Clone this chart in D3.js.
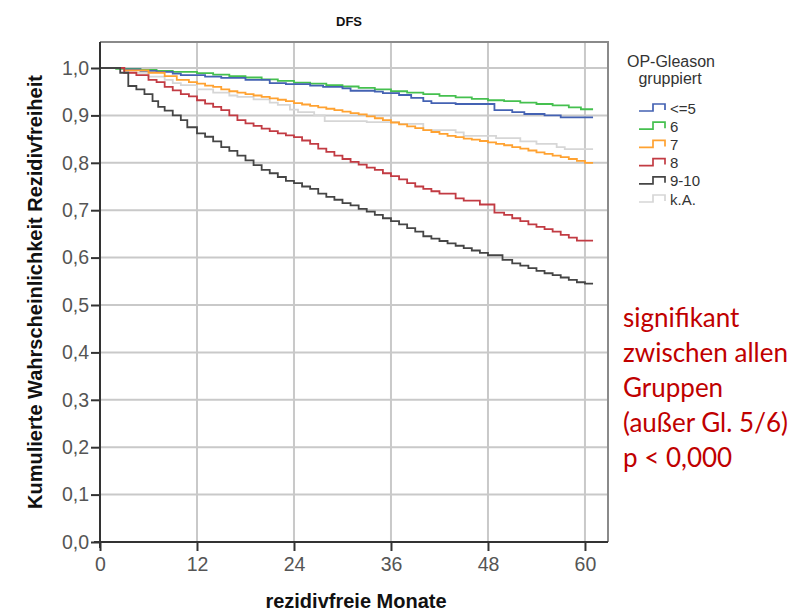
<!DOCTYPE html>
<html>
<head>
<meta charset="utf-8">
<script src="https://cdn.jsdelivr.net/npm/d3@7"></script>
<style>
  html, body { margin: 0; padding: 0; background: #fff; }
  svg { display: block; }
</style>
</head>
<body>
<svg id="chart" width="797" height="612"></svg>
<script>
// Kaplan-Meier step curves: months and cumulative recurrence-free probability per group
const groups = ["<=5", "6", "7", "8", "9-10", "k.A."];
const colors = ["#4462b3", "#45c04f", "#ffa231", "#c23b43", "#454545", "#d6d6d6"];

const monthsLe5 = [0, 3, 5, 7, 9, 10, 13, 15, 18, 21, 23, 26, 27.6, 30, 31, 34, 35, 37, 38.5, 40, 41, 44, 48.8, 51, 52.5, 55, 57, 61];
const survLe5   = [1, 0.997, 0.994, 0.992, 0.988, 0.985, 0.982, 0.979, 0.975, 0.968, 0.966, 0.963, 0.96, 0.957, 0.952, 0.95, 0.947, 0.943, 0.937, 0.93, 0.926, 0.924, 0.911, 0.907, 0.903, 0.9, 0.896, 0.896];

const months6 = [0, 2, 5, 7, 9, 12, 14, 16, 18, 20, 22, 24, 26, 28, 30, 32, 34, 36, 38, 40, 42, 44, 46, 48, 50, 52, 54, 56, 58, 59.5, 61];
const surv6   = [1, 0.998, 0.996, 0.994, 0.992, 0.989, 0.986, 0.983, 0.98, 0.976, 0.973, 0.969, 0.967, 0.964, 0.961, 0.958, 0.955, 0.951, 0.948, 0.945, 0.941, 0.938, 0.935, 0.932, 0.93, 0.927, 0.924, 0.921, 0.917, 0.913, 0.913];

const months7 = [0, 3, 6, 8, 9.5, 11, 12, 13, 14, 15, 16, 17, 18, 19, 20, 21, 22, 23, 24, 25, 26, 27, 28, 29, 30, 31, 32, 33, 34, 35, 36, 37, 38, 39, 40, 41, 42, 43, 44, 45, 46, 47, 48, 49, 50, 51, 52, 53, 54, 55, 56, 57, 58, 59, 60, 61];
const surv7   = [1, 0.995, 0.99, 0.983, 0.975, 0.97, 0.967, 0.963, 0.96, 0.955, 0.951, 0.948, 0.945, 0.942, 0.939, 0.936, 0.933, 0.93, 0.926, 0.923, 0.92, 0.917, 0.914, 0.911, 0.908, 0.905, 0.902, 0.898, 0.894, 0.89, 0.885, 0.881, 0.877, 0.873, 0.869, 0.865, 0.861, 0.857, 0.854, 0.851, 0.849, 0.846, 0.843, 0.84, 0.837, 0.833, 0.83, 0.826, 0.822, 0.819, 0.815, 0.812, 0.808, 0.804, 0.8, 0.8];

const months8 = [0, 3, 4.5, 6, 7, 8, 9, 10, 11, 12, 13, 14, 15, 16, 17, 18, 19, 20, 21, 22, 23, 24, 25, 26, 27, 28, 29, 30, 31, 32, 33, 34, 35, 36, 37, 38, 39, 40, 41, 42, 44, 45, 47, 48.8, 50, 51, 52, 53, 54, 55, 56, 57, 58, 59, 61];
const surv8   = [1, 0.99, 0.985, 0.975, 0.97, 0.96, 0.953, 0.945, 0.94, 0.932, 0.925, 0.918, 0.911, 0.9, 0.89, 0.883, 0.878, 0.872, 0.867, 0.862, 0.858, 0.854, 0.847, 0.84, 0.83, 0.823, 0.815, 0.808, 0.802, 0.796, 0.79, 0.785, 0.778, 0.772, 0.765, 0.757, 0.75, 0.745, 0.74, 0.735, 0.725, 0.72, 0.712, 0.695, 0.69, 0.683, 0.677, 0.67, 0.665, 0.66, 0.655, 0.648, 0.642, 0.636, 0.636];

const months910 = [0, 2.5, 3.5, 4.5, 5.5, 6.5, 7.2, 8, 9, 10, 10.8, 12, 13, 14, 15, 16, 17, 18, 19, 20, 21, 22, 23, 24, 25, 26, 27, 28, 29, 30, 31, 32, 33, 34, 35, 36, 37, 38, 39, 40, 41, 42, 43, 44, 45, 46, 47, 48, 49.8, 51, 52, 53, 54, 55, 56, 57, 58, 59, 60, 61];
const surv910   = [1, 0.99, 0.962, 0.955, 0.945, 0.93, 0.918, 0.91, 0.9, 0.89, 0.875, 0.862, 0.855, 0.845, 0.833, 0.825, 0.815, 0.805, 0.795, 0.785, 0.778, 0.77, 0.762, 0.757, 0.75, 0.745, 0.735, 0.728, 0.722, 0.715, 0.71, 0.703, 0.697, 0.69, 0.683, 0.677, 0.67, 0.662, 0.655, 0.645, 0.64, 0.635, 0.63, 0.625, 0.62, 0.615, 0.61, 0.605, 0.595, 0.588, 0.583, 0.578, 0.572, 0.567, 0.563, 0.558, 0.553, 0.548, 0.545, 0.545];

const monthsKA = [0, 3, 6, 8, 9, 10, 12, 14, 16, 17, 19, 21, 22, 23.5, 24.5, 26.5, 27.8, 33, 37, 40, 44, 45, 49, 52, 54, 56.5, 57.5, 61];
const survKA   = [1, 0.99, 0.982, 0.975, 0.968, 0.964, 0.955, 0.948, 0.942, 0.939, 0.934, 0.927, 0.922, 0.912, 0.907, 0.9, 0.888, 0.886, 0.882, 0.869, 0.864, 0.857, 0.852, 0.845, 0.84, 0.833, 0.829, 0.829];

const monthTicks = [0, 12, 24, 36, 48, 60];
const probTicks = [0, 0.1, 0.2, 0.3, 0.4, 0.5, 0.6, 0.7, 0.8, 0.9, 1.0];

const noteLines = ["signifikant", "zwischen allen", "Gruppen", "(außer Gl. 5/6)", "p < 0,000"];

const monthsList = [monthsLe5, months6, months7, months8, months910, monthsKA];
const survList = [survLe5, surv6, surv7, surv8, surv910, survKA];
// drawing order: light gray first so coloured curves sit on top
const drawOrder = [5, 1, 0, 2, 3, 4];

const svg = d3.select("#chart");
const fmt = d => d3.format(".1f")(d).replace(".", ",");

const x = d3.scaleLinear().domain([0, 62.85]).range([100, 608]);
const y = d3.scaleLinear().domain([0, 1]).range([542, 68]);
const yTop = y(1.055);

// grid
const grid = svg.append("g").attr("stroke", "#c9c9c9").attr("stroke-width", 2);
grid.selectAll("line.h").data(probTicks.slice(1)).join("line")
  .attr("x1", x(0)).attr("x2", x.range()[1])
  .attr("y1", d => y(d)).attr("y2", d => y(d));
grid.selectAll("line.v").data(monthTicks.slice(1)).join("line")
  .attr("y1", yTop).attr("y2", y(0))
  .attr("x1", d => x(d)).attr("x2", d => x(d));

// frame (top and right)
svg.append("path")
  .attr("d", `M${x(0)},${yTop}H${x.range()[1]}V${y(0)}`)
  .attr("fill", "none").attr("stroke", "#8a8a8a").attr("stroke-width", 2);

// curves
const line = d3.line().x(d => x(d[0])).y(d => y(d[1])).curve(d3.curveStepAfter);
svg.append("g").selectAll("path").data(drawOrder).join("path")
  .attr("d", i => line(monthsList[i].map((m, k) => [m, survList[i][k]])))
  .attr("fill", "none")
  .attr("stroke", i => colors[i])
  .attr("stroke-width", 1.8)
  .attr("stroke-linejoin", "miter");

// axes
const axisFont = "'Liberation Sans', Arial, sans-serif";
const yAxis = svg.append("g").attr("transform", `translate(${x(0)},0)`)
  .call(d3.axisLeft(y).tickValues(probTicks).tickFormat(fmt).tickSize(9).tickPadding(2));
const xAxis = svg.append("g").attr("transform", `translate(0,${y(0)})`)
  .call(d3.axisBottom(x).tickValues(monthTicks).tickSize(9).tickPadding(6));
[yAxis, xAxis].forEach(a => {
  a.select(".domain").remove();
  a.selectAll(".tick line").attr("stroke", "#333").attr("stroke-width", 2);
  a.selectAll(".tick text").attr("fill", "#555").style("font-family", axisFont).style("font-size", "19.5px");
});
svg.append("line").attr("x1", x(0)).attr("x2", x(0)).attr("y1", yTop).attr("y2", y(0) + 6)
  .attr("stroke", "#333").attr("stroke-width", 2);
svg.append("line").attr("x1", x(0) - 6).attr("x2", x.range()[1]).attr("y1", y(0)).attr("y2", y(0))
  .attr("stroke", "#333").attr("stroke-width", 2);

// titles
svg.append("text").attr("x", 349).attr("y", 26).attr("text-anchor", "middle")
  .style("font-family", axisFont).style("font-weight", "bold").style("font-size", "13px")
  .attr("fill", "#111").text("DFS");
svg.append("text").attr("x", 356).attr("y", 608).attr("text-anchor", "middle")
  .style("font-family", axisFont).style("font-weight", "bold").style("font-size", "20px")
  .attr("fill", "#111").text("rezidivfreie Monate");
svg.append("text").attr("transform", "translate(42,292) rotate(-90)").attr("text-anchor", "middle")
  .style("font-family", axisFont).style("font-weight", "bold").style("font-size", "20px")
  .attr("fill", "#111").text("Kumulierte Wahrscheinlichkeit Rezidivfreiheit");

// legend
const leg = svg.append("g").style("font-family", axisFont);
leg.append("text").attr("x", 671).attr("y", 67).attr("text-anchor", "middle")
  .style("font-size", "16px").attr("fill", "#333").text("OP-Gleason");
leg.append("text").attr("x", 670).attr("y", 84).attr("text-anchor", "middle")
  .style("font-size", "16px").attr("fill", "#333").text("gruppiert");
const items = leg.selectAll("g.item").data(groups).join("g")
  .attr("transform", (d, i) => `translate(639,${108 + i * 18.2})`);
items.append("path")
  .attr("d", "M0,3H14V-4H26V2")
  .attr("fill", "none").attr("stroke", (d, i) => colors[i]).attr("stroke-width", 1.7);
items.append("text").attr("x", 31).attr("y", 5.5)
  .style("font-size", "15px").attr("fill", "#333").text(d => d);

// significance note
svg.append("g").selectAll("text").data(noteLines).join("text")
  .attr("x", 623).attr("y", (d, i) => 327 + i * 35)
  .style("font-family", "Lato, 'Open Sans', sans-serif").style("font-size", "26px")
  .attr("fill", "#c00000").text(d => d);
</script>
</body>
</html>
